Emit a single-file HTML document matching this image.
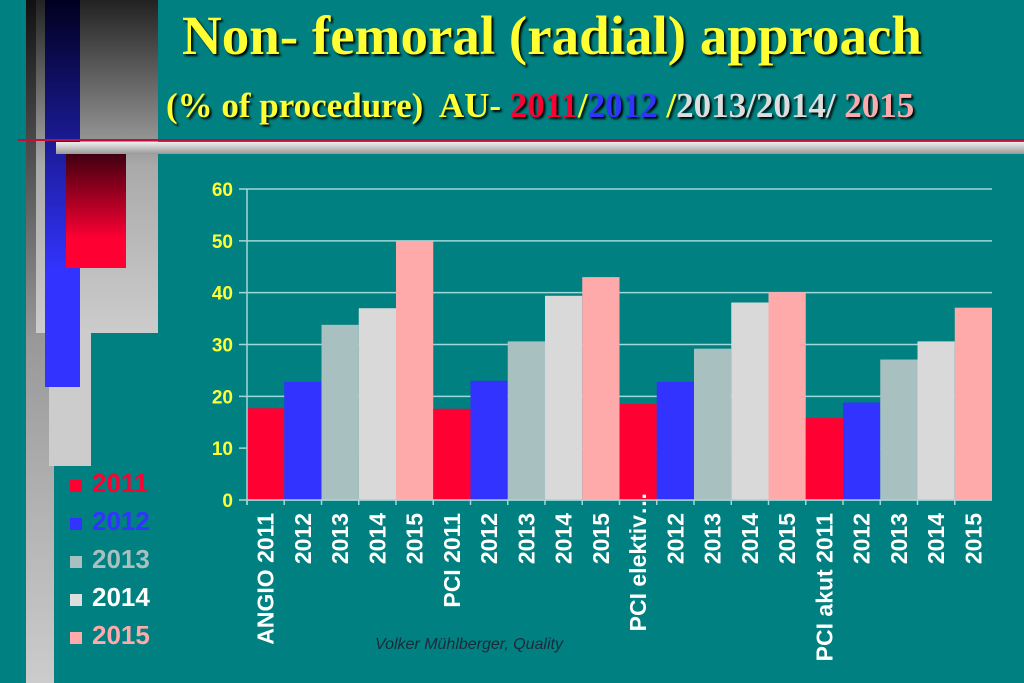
<!DOCTYPE html>
<html><head><meta charset="utf-8"><style>
body{margin:0;width:1024px;height:683px;overflow:hidden;background:#008080;font-family:"Liberation Sans",sans-serif;position:relative}
.a{position:absolute}
</style></head><body>
<div class="a" style="left:26px;top:0;width:28px;height:683px;background:linear-gradient(#111,#999 50%,#ccc)"></div>
<div class="a" style="left:36px;top:0;width:122px;height:333px;background:linear-gradient(#222,#aaa 50%,#ccc)"></div>
<div class="a" style="left:49px;top:333px;width:42px;height:133px;background:#ccc"></div>
<div class="a" style="left:45px;top:0;width:35px;height:387px;background:linear-gradient(#000020,#3333ff 70%)"></div>
<div class="a" style="left:18px;top:139px;width:1006px;height:2px;background:#c0103a"></div>
<div class="a" style="left:56px;top:142px;width:968px;height:12px;background:linear-gradient(#eee,#999)"></div>
<div class="a" style="left:66px;top:154px;width:60px;height:114px;background:linear-gradient(#400010,#ff0033 75%)"></div>
<div class="a" style="left:100px;width:904px;top:4px;text-align:center;font:bold 55px 'Liberation Serif',serif;color:#ffff33;text-shadow:2px 2px 2px #000">Non- femoral (radial) approach</div>
<div class="a" style="left:166px;top:86px;font:bold 35px 'Liberation Serif',serif;color:#ffff33;text-shadow:2px 2px 2px #000;white-space:nowrap">(% of procedure)&nbsp; AU- <span style="color:#ff0033">2011</span>/<span style="color:#3333ff">2012</span> /<span style="color:#dddddd">2013/2014/</span> <span style="color:#ffaaaa">2015</span></div>
<div class="a" style="left:70px;top:464px;font:bold 26px 'Liberation Sans',sans-serif;line-height:38px">
<div style="color:#ff0033"><span style="display:inline-block;width:12px;height:12px;background:#ff0033;margin-right:10px"></span>2011</div>
<div style="color:#3333ff"><span style="display:inline-block;width:12px;height:12px;background:#3333ff;margin-right:10px"></span>2012</div>
<div style="color:#a9c0c0"><span style="display:inline-block;width:12px;height:12px;background:#a9c0c0;margin-right:10px"></span>2013</div>
<div style="color:#fff"><span style="display:inline-block;width:12px;height:12px;background:#ddd;margin-right:10px"></span>2014</div>
<div style="color:#ffaaaa"><span style="display:inline-block;width:12px;height:12px;background:#ffaaaa;margin-right:10px"></span>2015</div>
</div>
<div class="a" style="left:375px;top:636px;font:italic 16px 'Liberation Sans',sans-serif;color:#1a2a3a">Volker Mühlberger, Quality</div>
<svg class="a" style="left:0;top:0" width="1024" height="683" id="ch"></svg>
<script>
const groups=["ANGIO","PCI","PCI elektiv…","PCI akut"];
const years=["2011","2012","2013","2014","2015"];
const s2011=[17.7,17.6,18.5,15.8];
const s2012=[22.8,23,22.8,18.8];
const s2013=[33.8,30.6,29.2,27.1];
const s2014=[37,39.4,38.1,30.6];
const s2015=[50,43,40.1,37.1];
const yTicks=[0,10,20,30,40,50,60];
const series=[s2011,s2012,s2013,s2014,s2015];
const colors=["#ff0033","#3333ff","#a9c0c0","#d9d9d9","#ffaaaa"];
const X0=247,X1=992,Y0=500,Y1=189,YMAX=60;
const n=groups.length*years.length,bw=(X1-X0)/n;
const y=v=>Y0-(Y0-Y1)*v/YMAX;
const svg=document.getElementById('ch'),NS="http://www.w3.org/2000/svg";
function mk(t,a){const e=document.createElementNS(NS,t);for(const k in a)e.setAttribute(k,a[k]);svg.appendChild(e);return e;}
yTicks.forEach(t=>{
 const g=mk('line',{x1:X0-8,x2:X1,y1:y(t),y2:y(t),stroke:'#9fd8d8','stroke-width':1.5});
 
 
 const l=mk('text',{x:233,y:y(t)+7,'text-anchor':'end',fill:'#ffff33','font-size':19,'font-weight':'bold','font-family':'Liberation Sans,sans-serif'});
 l.textContent=t;
 
 
});
groups.forEach((g,gi)=>{
 years.forEach((yr,yi)=>{
  const i=gi*5+yi,v=series[yi][gi],x=X0+i*bw;
  const r=mk('rect',{x:x,y:y(v),width:bw,height:Y0-y(v),fill:colors[yi]});
  
  
  const cx=x+bw/2+8;
  const el=gi==2&&yi==0;
  const t=mk('text',{transform:`translate(${cx},${el?492:513}) rotate(-90)`,'text-anchor':'end',fill:'#fff','font-size':23,'font-weight':'bold','font-family':'Liberation Sans,sans-serif'});
  t.textContent=el?"PCI elektiv…":((yi==0?(g+" "):"")+yr);
  
  
  const tk=mk('line',{x1:x,x2:x,y1:Y0,y2:Y0+5,stroke:'#9fd8d8','stroke-width':1.5});
  
  
 });
});
const ax=mk('line',{x1:X0,x2:X0,y1:Y1,y2:Y0+5,stroke:'#9fd8d8','stroke-width':1.5});


const bx=mk('line',{x1:X0,x2:X1,y1:Y0,y2:Y0,stroke:'#9fd8d8','stroke-width':1.5});


</script>
</body></html>
